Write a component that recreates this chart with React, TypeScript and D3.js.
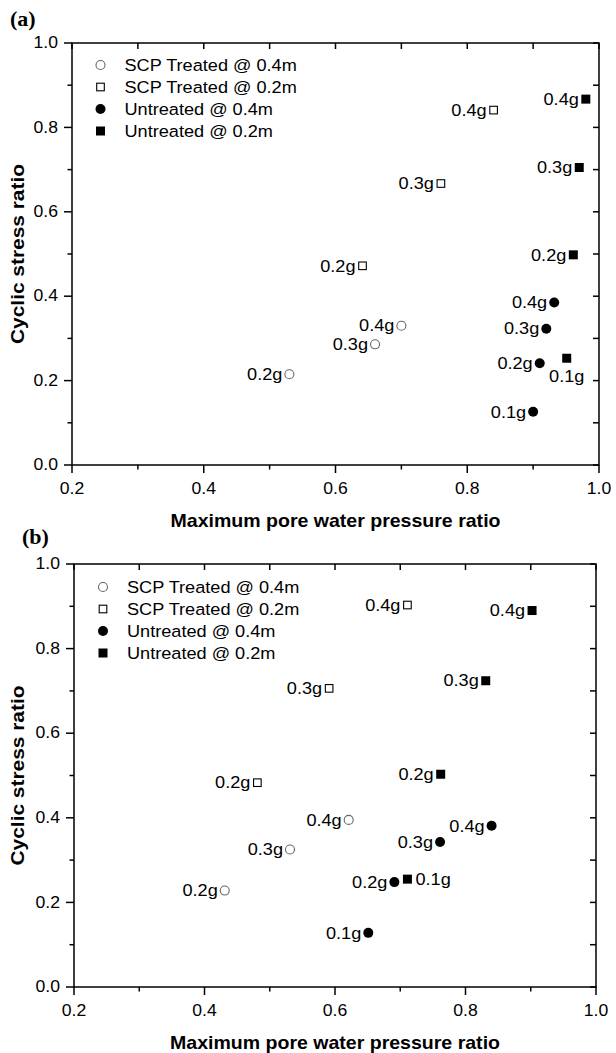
import React from "react";
import * as d3 from "d3";

// ---------- data ----------
const seriesNames = ["SCP Treated @ 0.4m", "SCP Treated @ 0.2m", "Untreated @ 0.4m", "Untreated @ 0.2m"];
const seriesShapes = ["openCircle", "openSquare", "filledCircle", "filledSquare"];

// Panel (a)
const aScpCircleX = [0.53, 0.66, 0.70];
const aScpCircleY = [0.215, 0.286, 0.330];
const aScpCircleLbl = ["0.2g", "0.3g", "0.4g"];
const aScpSquareX = [0.641, 0.76, 0.84];
const aScpSquareY = [0.472, 0.667, 0.841];
const aScpSquareLbl = ["0.2g", "0.3g", "0.4g"];
const aUntCircleX = [0.90, 0.91, 0.92, 0.932];
const aUntCircleY = [0.126, 0.241, 0.323, 0.385];
const aUntCircleLbl = ["0.1g", "0.2g", "0.3g", "0.4g"];
const aUntSquareX = [0.951, 0.961, 0.97, 0.98];
const aUntSquareY = [0.253, 0.498, 0.705, 0.867];
const aUntSquareLbl = ["0.1g", "0.2g", "0.3g", "0.4g"];
const aUntSquarePos = ["below", "left", "left", "left"];

// Panel (b)
const bScpCircleX = [0.431, 0.531, 0.621];
const bScpCircleY = [0.228, 0.325, 0.395];
const bScpCircleLbl = ["0.2g", "0.3g", "0.4g"];
const bScpSquareX = [0.481, 0.591, 0.711];
const bScpSquareY = [0.483, 0.706, 0.903];
const bScpSquareLbl = ["0.2g", "0.3g", "0.4g"];
const bUntCircleX = [0.651, 0.691, 0.761, 0.840];
const bUntCircleY = [0.128, 0.248, 0.343, 0.381];
const bUntCircleLbl = ["0.1g", "0.2g", "0.3g", "0.4g"];
const bUntSquareX = [0.711, 0.762, 0.831, 0.902];
const bUntSquareY = [0.255, 0.503, 0.724, 0.890];
const bUntSquareLbl = ["0.1g", "0.2g", "0.3g", "0.4g"];
const bUntSquarePos = ["right", "left", "left", "left"];

const xMajorTicks = [0.2, 0.4, 0.6, 0.8, 1.0];
const xMinorTicks = [0.3, 0.5, 0.7, 0.9];
const yMajorTicks = [0.0, 0.2, 0.4, 0.6, 0.8, 1.0];
const yMinorTicks = [0.1, 0.3, 0.5, 0.7, 0.9];

const xTitle = "Maximum pore water pressure ratio";
const yTitle = "Cyclic stress ratio";

const FONT = "'Liberation Sans', Arial, Helvetica, sans-serif";

type Pt = { x: number; y: number; lbl: string; pos: string };

function zip(xs: number[], ys: number[], ls: string[], pos?: string[]): Pt[] {
  return xs.map((x, i) => ({ x, y: ys[i], lbl: ls[i], pos: pos ? pos[i] : "left" }));
}

function Marker({ shape, cx, cy }: { shape: string; cx: number; cy: number }) {
  if (shape === "openCircle")
    return <circle cx={cx} cy={cy} r={4.5} fill="white" stroke="#666" strokeWidth={1.1} />;
  if (shape === "openSquare")
    return <rect x={cx - 3.8} y={cy - 3.8} width={7.6} height={7.6} fill="white" stroke="#000" strokeWidth={1.1} />;
  if (shape === "filledCircle") return <circle cx={cx} cy={cy} r={5} fill="#000" />;
  return <rect x={cx - 4.5} y={cy - 4.5} width={9} height={9} fill="#000" />;
}

// text slightly stretched horizontally, like the reference
function SText({ x, y, anchor, size, children }: { x: number; y: number; anchor?: string; size: number; children: React.ReactNode }) {
  return (
    <text transform={`translate(${x},${y}) scale(1.1,1)`} textAnchor={anchor || "start"} dominantBaseline="central" fontSize={size}>
      {children}
    </text>
  );
}

function Panel({
  tag, tagX, tagY, left, right, top, bottom, series, legendX, legendY,
}: {
  tag: string; tagX: number; tagY: number; left: number; right: number; top: number; bottom: number;
  series: Pt[][]; legendX: number; legendY: number;
}) {
  const x = d3.scaleLinear().domain([0.2, 1.0]).range([left, right]);
  const y = d3.scaleLinear().domain([0, 1.0]).range([bottom, top]);
  const fmt = d3.format(".1f");
  const ax = { stroke: "#000", strokeWidth: 1.5 };
  return (
    <g fontFamily={FONT}>
      <text x={tagX} y={tagY} fontFamily="'Liberation Serif', 'Times New Roman', serif" fontWeight="bold" fontSize={22}>{tag}</text>
      <rect x={left} y={top} width={right - left} height={bottom - top} fill="none" stroke="#000" strokeWidth={1.5} />
      {xMajorTicks.map((t) => (
        <g key={"xm" + t}>
          <line x1={x(t)} x2={x(t)} y1={bottom} y2={bottom + 8} {...ax} />
          <line x1={x(t)} x2={x(t)} y1={top} y2={top + 6} {...ax} />
          <SText x={x(t)} y={bottom + 24} anchor="middle" size={16}>{fmt(t)}</SText>
        </g>
      ))}
      {xMinorTicks.map((t) => (
        <g key={"xn" + t}>
          <line x1={x(t)} x2={x(t)} y1={bottom} y2={bottom + 4.5} {...ax} />
          <line x1={x(t)} x2={x(t)} y1={top} y2={top + 6} {...ax} />
        </g>
      ))}
      {yMajorTicks.map((t) => (
        <g key={"ym" + t}>
          <line x1={left - 8} x2={left} y1={y(t)} y2={y(t)} {...ax} />
          <line x1={right - 6} x2={right} y1={y(t)} y2={y(t)} {...ax} />
          <SText x={left - 14} y={y(t)} anchor="end" size={16}>{fmt(t)}</SText>
        </g>
      ))}
      {yMinorTicks.map((t) => (
        <g key={"yn" + t}>
          <line x1={left - 4.5} x2={left} y1={y(t)} y2={y(t)} {...ax} />
          <line x1={right - 6} x2={right} y1={y(t)} y2={y(t)} {...ax} />
        </g>
      ))}
      <text x={(left + right) / 2} y={bottom + 55} textAnchor="middle" dominantBaseline="central" fontWeight="bold" fontSize={18.5} textLength={330} lengthAdjust="spacingAndGlyphs">{xTitle}</text>
      <text transform={`translate(17,${(top + bottom) / 2}) rotate(-90)`} textAnchor="middle" dominantBaseline="central" fontWeight="bold" fontSize={18.5} textLength={180} lengthAdjust="spacingAndGlyphs">{yTitle}</text>
      {seriesNames.map((n, i) => (
        <g key={n}>
          <Marker shape={seriesShapes[i]} cx={legendX} cy={legendY + i * 22} />
          <SText x={legendX + 24} y={legendY + i * 22} size={16.5}>{n}</SText>
        </g>
      ))}
      {series.map((pts, si) => (
        <g key={"s" + si}>
          {pts.map((p, i) => {
            const cx = x(p.x), cy = y(p.y);
            let lx = cx - 7, ly = cy, anchor = "end";
            if (p.pos === "below") { lx = cx; ly = cy + 18; anchor = "middle"; }
            if (p.pos === "right") { lx = cx + 8; anchor = "start"; }
            return (
              <g key={i}>
                <Marker shape={seriesShapes[si]} cx={cx} cy={cy} />
                <SText x={lx} y={ly} anchor={anchor} size={16.5}>{p.lbl}</SText>
              </g>
            );
          })}
        </g>
      ))}
    </g>
  );
}

export default function App() {
  const seriesA = [
    zip(aScpCircleX, aScpCircleY, aScpCircleLbl),
    zip(aScpSquareX, aScpSquareY, aScpSquareLbl),
    zip(aUntCircleX, aUntCircleY, aUntCircleLbl),
    zip(aUntSquareX, aUntSquareY, aUntSquareLbl, aUntSquarePos),
  ];
  const seriesB = [
    zip(bScpCircleX, bScpCircleY, bScpCircleLbl),
    zip(bScpSquareX, bScpSquareY, bScpSquareLbl),
    zip(bUntCircleX, bUntCircleY, bUntCircleLbl),
    zip(bUntSquareX, bUntSquareY, bUntSquareLbl, bUntSquarePos),
  ];
  return (
    <svg width={616} height={1053} style={{ position: "absolute", left: 0, top: 0, background: "#fff" }}>
      <rect width={616} height={1053} fill="#fff" />
      <Panel tag="(a)" tagX={10} tagY={26} left={72} right={599} top={43} bottom={465}
        series={seriesA} legendX={100.5} legendY={65} />
      <Panel tag="(b)" tagX={22} tagY={544} left={74} right={596} top={564} bottom={987}
        series={seriesB} legendX={103} legendY={587} />
    </svg>
  );
}
